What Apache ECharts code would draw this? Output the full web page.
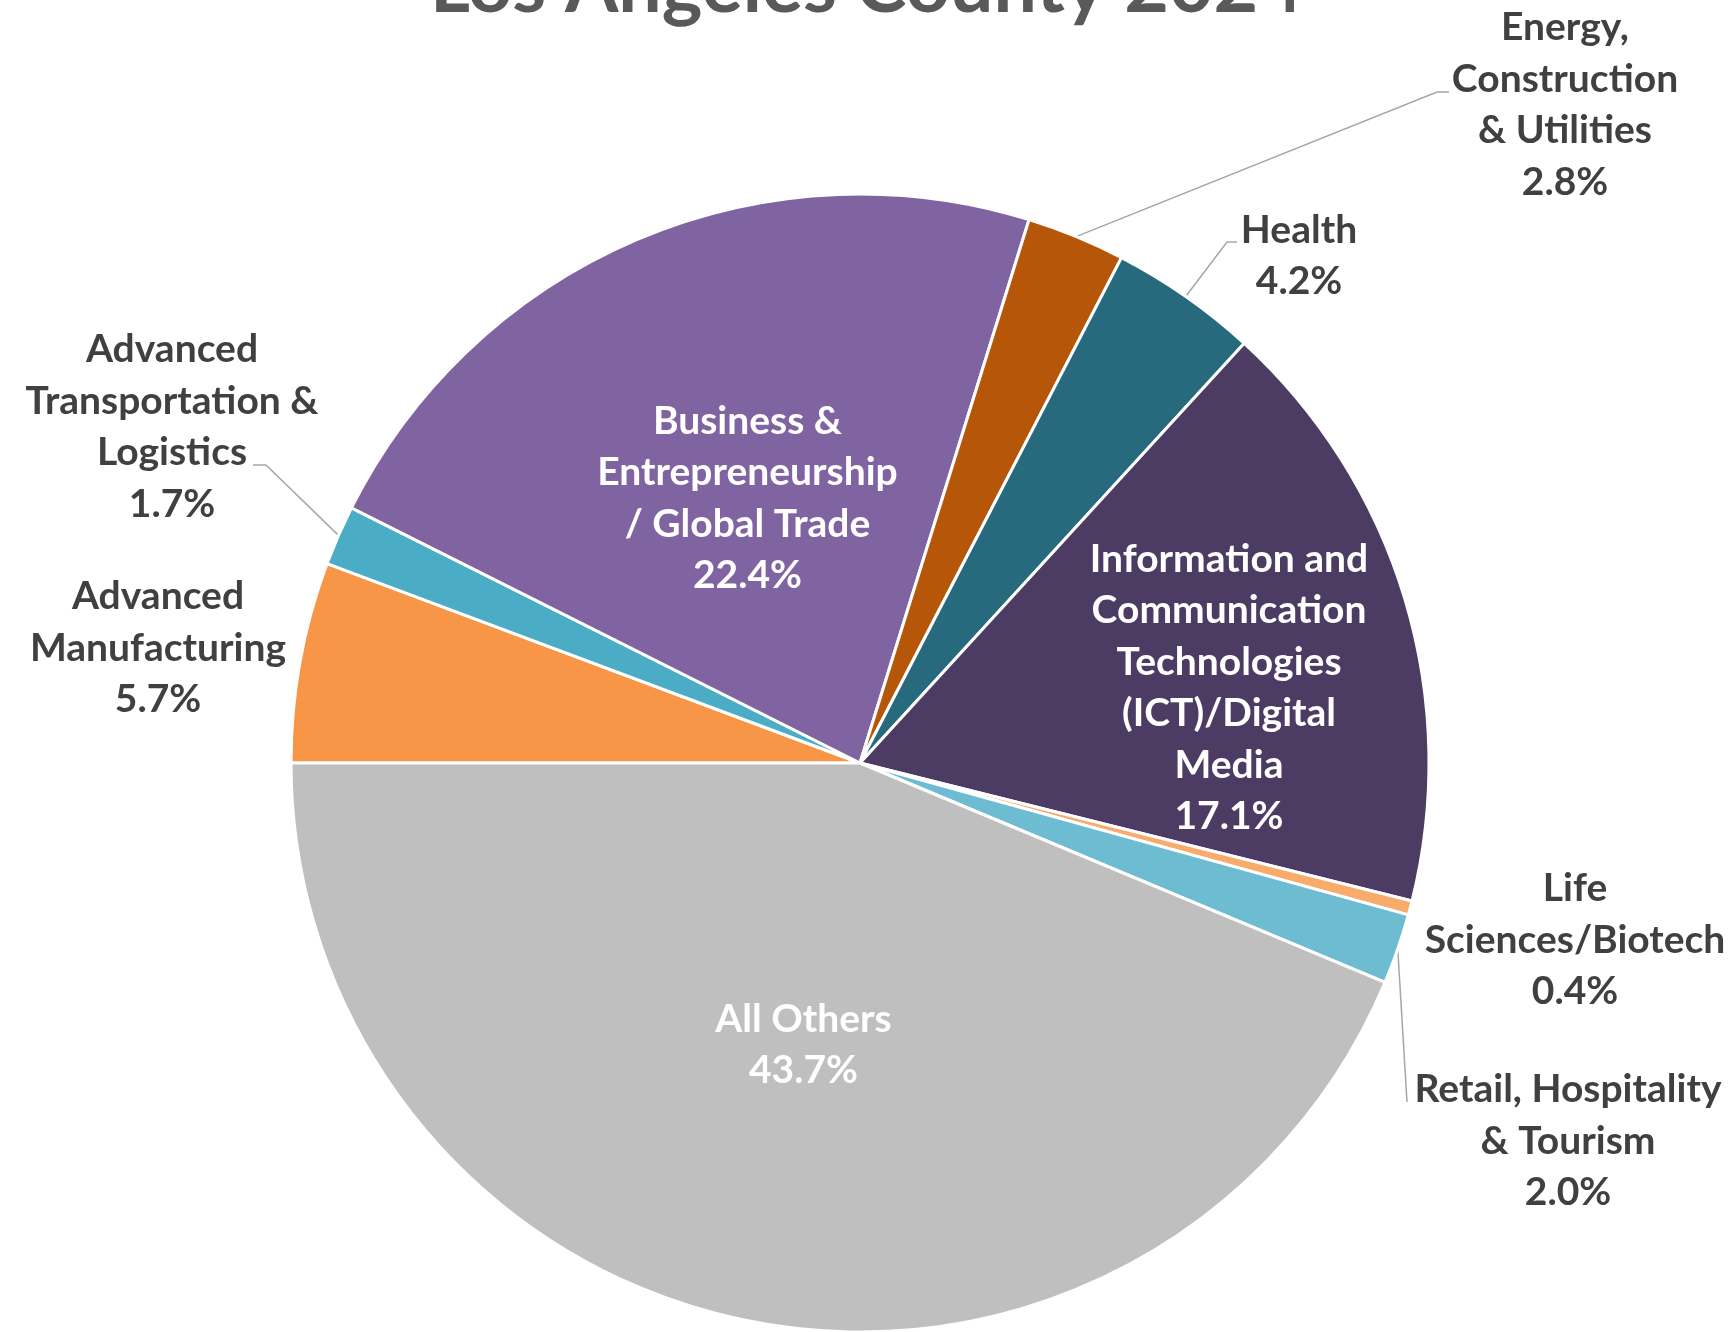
<!DOCTYPE html>
<html>
<head>
<meta charset="utf-8">
<script src="https://cdn.jsdelivr.net/npm/echarts@6/dist/echarts.min.js"></script>
<style>
html,body{margin:0;padding:0;background:#ffffff;}
#chart{width:1733px;height:1332px;}
</style>
</head>
<body>
<div id="chart"></div>
<script>
// ---- data ----
const titleText = 'Los Angeles County 2024';
const categories = [
  'Advanced\nManufacturing',
  'Advanced\nTransportation &\nLogistics',
  'Business &\nEntrepreneurship\n/ Global Trade',
  'Energy,\nConstruction\n& Utilities',
  'Health',
  'Information and\nCommunication\nTechnologies\n(ICT)/Digital\nMedia',
  'Life\nSciences/Biotech',
  'Retail, Hospitality\n& Tourism',
  'All Others'
];
const values = [5.7, 1.7, 22.4, 2.8, 4.2, 17.1, 0.4, 2.0, 43.7];
const sliceColors = ['#F79646', '#4BACC6', '#8064A2', '#B65608', '#276A7D', '#4C3B62', '#F9AB6B', '#6EBCD2', '#BFBFBF'];

// ---- label styling / placement (not data) ----
const insideLabels = [2, 5, 8];
const linedLabels = [1, 3, 4, 7];
const labelPlacement = {
  0: { x: 158, y: 648 },
  1: { x: 172, y: 427, line: [[266, 465], [253, 465]] },
  3: { x: 1565, y: 105, line: [[1437, 92], [1449, 92]] },
  4: { x: 1299, y: 256, line: [[1227, 242], [1237, 242]] },
  5: { x: 1229, y: 688 },
  6: { x: 1575, y: 940 },
  7: { x: 1568, y: 1141, line: [[1407, 1102], [1407, 1102]] }
};

const FONT = 'Lato';
const FS = 39;
const LH = 51.5;

const seriesData = categories.map((name, i) => {
  const inside = insideLabels.indexOf(i) >= 0;
  return {
    name: name,
    value: values[i],
    itemStyle: { color: sliceColors[i] },
    label: inside ? { position: 'inside', color: '#FFFFFF' } : { position: 'outside', color: '#404040' },
    labelLine: { show: linedLabels.indexOf(i) >= 0 }
  };
});

const chart = echarts.init(document.getElementById('chart'), null, { renderer: 'canvas' });
chart.setOption({
  backgroundColor: '#FFFFFF',
  animation: false,
  title: {
    text: titleText,
    left: 'center',
    top: -51,
    padding: [0, 0, 0, 31],
    textStyle: { fontFamily: FONT, fontSize: 77, fontWeight: 'bold', color: '#595959' }
  },
  series: [{
    type: 'pie',
    center: [860, 763],
    radius: 569,
    startAngle: 180,
    clockwise: true,
    avoidLabelOverlap: false,
    itemStyle: { borderColor: '#FFFFFF', borderWidth: 3 },
    label: {
      show: true,
      fontFamily: FONT,
      fontSize: FS,
      fontWeight: 'bold',
      lineHeight: LH,
      align: 'center',
      formatter: p => p.name + '\n' + p.value.toFixed(1) + '%'
    },
    labelLine: {
      length: 20,
      length2: 12,
      lineStyle: { color: '#A6A6A6', width: 1.5 }
    },
    labelLayout: function (params) {
      const pl = labelPlacement[params.dataIndex];
      if (!pl) return {};
      const out = { x: pl.x, y: pl.y, align: 'center', verticalAlign: 'middle' };
      if (pl.line && params.labelLinePoints && params.labelLinePoints[0]) {
        out.labelLinePoints = [params.labelLinePoints[0], pl.line[0], pl.line[1]];
      }
      return out;
    },
    data: seriesData
  }]
});
</script>
</body>
</html>
